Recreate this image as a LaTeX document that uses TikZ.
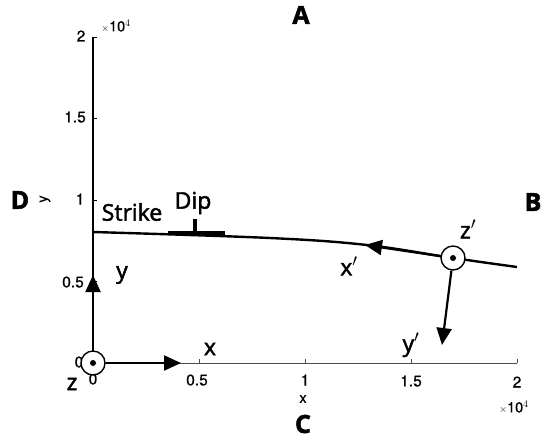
\documentclass[tikz,border=0pt]{standalone}
\usepackage{fontspec}
\setmainfont{Open Sans}
\newfontfamily\lblfont[FakeBold=2]{Open Sans}
\newfontfamily\bigfont[FakeBold=2]{Open Sans Bold}
\newfontfamily\tickfont[FakeBold=0.6]{TeX Gyre Heros}
\usetikzlibrary{arrows.meta}
\tikzset{
  tick/.style={font=\tickfont\fontsize{15.5}{15.5}\selectfont, inner sep=1pt},
  small/.style={font=\tickfont\fontsize{14.5}{14.5}\selectfont, inner sep=1pt},
  lbl/.style={font=\lblfont\fontsize{23}{23}\selectfont, inner sep=1pt},
  big/.style={font=\bigfont\fontsize{25}{25}\selectfont, inner sep=1pt},
  vec/.style={line width=2.2pt, -{Triangle[length=17pt,width=15pt]}},
  ring/.style={circle, draw, line width=1.4pt, fill=white, minimum size=24pt, inner sep=0pt},
  dot/.style={circle, fill, minimum size=6pt, inner sep=0pt},
}
\begin{document}
\begin{tikzpicture}[x=1pt,y=-1pt]
\useasboundingbox (0,0) rectangle (545,440);
% axes
\draw[gray!60!black, line width=1pt] (93,363) -- (517,363);
\foreach \x in {199,305,411,517} \draw[gray!60!black, line width=1pt] (\x,363) -- (\x,359);
\draw[line width=1.8pt] (93,363) -- (93,37);
\foreach \y in {37,118.5,200,281.5} \draw[line width=1pt] (93,\y) -- (97,\y);
% tick labels
\node[tick] (t2) at (81,36) {2};
\node[tick] (t15) at (75,117) {1.5};
\node[tick] (t1) at (80,199) {1};
\node[tick] (t05) at (73,282) {0.5};
\node[tick] (t0y) at (79,362) {0};
\node[tick] (t0x) at (93,379) {0};
\node[tick] (tx05) at (197,380) {0.5};
\node[tick] (tx1) at (305,380) {1};
\node[tick] (tx15) at (411,381) {1.5};
\node[tick] (tx2) at (517,382) {2};
\node[small] (ey) at (116,26) {$\scriptstyle\times$10$^{4}$};
\node[small] (ex) at (514,407) {$\scriptstyle\times$10$^{4}$};
\node[small] (xl) at (303,399) {x};
\node[small, rotate=90] (yl) at (45,199) {y};
% big letters
\node[big] (A) at (301,15) {A};
\node[big] (B) at (533,202) {B};
\node[big] (C) at (303,424) {C};
\node[big] (D) at (20,200) {D};
% fault trace
\coordinate (f0) at (93,232);
\coordinate (f4) at (517,267);
\draw[line width=2.4pt] plot[smooth, tension=0.6] coordinates {(f0) (270,238) (367,245) (453,258) (f4)};
% dip symbol
\draw[line width=4pt] (168,233) -- (225,233);
\draw[line width=3.5pt] (195,233) -- (195,219);
\node[lbl] (strike) at (132,212) {Strike};
\node[lbl] (dip) at (193,203) {Dip};
% local frame at origin
\node[ring] (o) at (93,363) {};
\node[dot] at (o.center) {};
\coordinate (xt) at (181,363);
\coordinate (yt) at (93,275);
\draw[vec] (o.east) -- (xt);
\draw[vec] (o.north) -- (yt);
\node[lbl] (xlab) at (210,349) {x};
\node[lbl] (ylab) at (122,275) {y};
\node[lbl] (zlab) at (72,384) {z};
% fault frame
\node[ring] (op) at (453,258) {};
\node[dot] at (op.center) {};
\coordinate (xpt) at (365,245);
\coordinate (ypt) at (442,345);
\draw[vec] (op) -- (xpt);
\draw[vec] (op) -- (ypt);
\node[lbl] (xplab) at (349,266) {x$'$};
\node[lbl] (yplab) at (411,345) {y$'$};
\node[lbl] (zplab) at (468,229) {z$'$};
\end{tikzpicture}
\end{document}
